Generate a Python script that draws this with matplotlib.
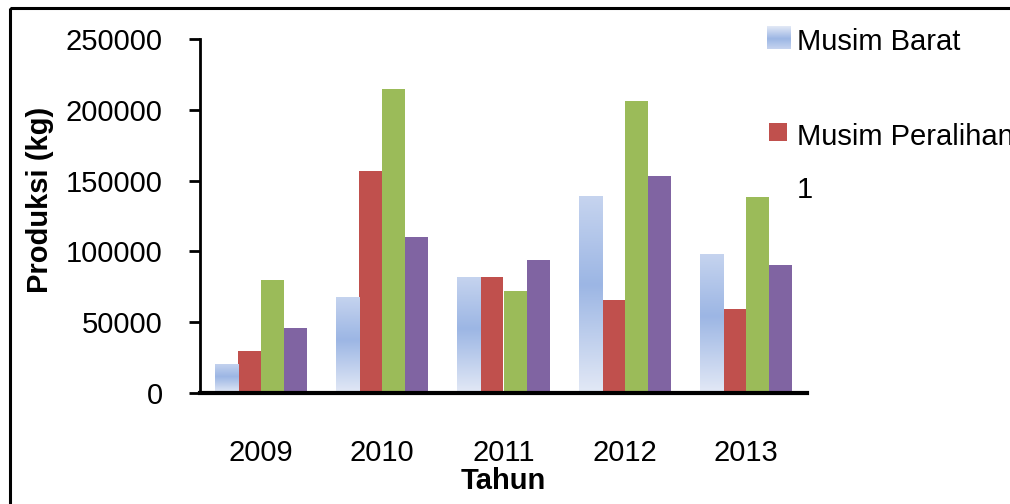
import numpy as np
import matplotlib
matplotlib.use("Agg")
import matplotlib.pyplot as plt
from matplotlib.patches import Rectangle
from matplotlib.colors import LinearSegmentedColormap

# ---- data ----
years = ["2009", "2010", "2011", "2012", "2013"]
musim_barat = [20500, 68000, 82000, 138800, 98400]
musim_peralihan_1 = [29700, 156500, 82000, 66000, 59500]
series_3 = [80000, 215000, 72000, 206000, 138700]
series_4 = [46000, 110000, 94000, 153000, 90600]
legend_labels = ["Musim Barat", "Musim Peralihan\n1"]
y_ticks = [0, 50000, 100000, 150000, 200000, 250000]

plt.rcParams['font.family'] = ['Liberation Sans', 'DejaVu Sans']

W, H = 1010, 504
fig = plt.figure(figsize=(W / 100, H / 100), dpi=100)

def fx(px):
    return px / W

def fy(py):
    return 1 - py / H

ax = fig.add_axes([fx(200), fy(393), fx(807) - fx(200), fy(39) - fy(393)])

x = np.arange(len(years))
bw = 0.19
red = "#c0504d"
green = "#9bbb59"
purple = "#8064a2"

grad_cmap = LinearSegmentedColormap.from_list(
    "bg", [(0.0, "#e3e9f6"), (0.55, "#9cb6e4"), (1.0, "#c6d4ef")])

blue_bars = ax.bar(x - 1.5 * bw, musim_barat, bw, color="none", edgecolor="none")
ax.bar(x - 0.5 * bw, musim_peralihan_1, bw, color=red, edgecolor="none")
ax.bar(x + 0.5 * bw, series_3, bw, color=green, edgecolor="none")
ax.bar(x + 1.5 * bw, series_4, bw, color=purple, edgecolor="none")

grad = np.linspace(0, 1, 256).reshape(-1, 1)
for b in blue_bars:
    x0, y0 = b.get_x(), b.get_y()
    w, h = b.get_width(), b.get_height()
    im = ax.imshow(grad, cmap=grad_cmap, origin="lower", aspect="auto",
                   extent=[x0, x0 + w, y0, y0 + h], zorder=1)
    im.set_clip_path(b)

ax.set_xlim(-0.5, len(years) - 0.5)
ax.set_ylim(0, 250000)
ax.set_yticks(y_ticks)
ax.set_yticklabels([str(v) for v in y_ticks])
ax.set_xticks(x)
ax.set_xticklabels(years)

for s in ["top", "right"]:
    ax.spines[s].set_visible(False)
ax.spines["left"].set_linewidth(2)
ax.spines["bottom"].set_linewidth(3)
ax.spines["left"].set_zorder(3)
ax.spines["bottom"].set_zorder(3)

ax.tick_params(axis="y", direction="out", length=8, width=2, pad=19,
               labelsize=21, colors="black")
ax.tick_params(axis="x", length=0, pad=33, labelsize=21, colors="black")

ax.set_xlabel("Tahun", fontsize=21, fontweight="bold", labelpad=0)
ax.set_ylabel("Produksi (kg)", fontsize=21, fontweight="bold")
ax.yaxis.set_label_coords(-0.24, 0.545)

# ---- legend (manual, partially cut off as in reference) ----
leg_ax = fig.add_axes([0, 0, 1, 1], facecolor="none")
leg_ax.set_xlim(0, W)
leg_ax.set_ylim(H, 0)
leg_ax.axis("off")

# blue gradient marker
mk = Rectangle((767, 26), 24, 23, facecolor="none", edgecolor="none")
leg_ax.add_patch(mk)
im = leg_ax.imshow(grad, cmap=grad_cmap, origin="upper", aspect="auto",
                   extent=[767, 791, 49, 26])
im.set_clip_path(mk)
leg_ax.add_patch(Rectangle((769, 123), 18, 18, facecolor=red, edgecolor="none"))

leg_ax.text(797, 42, legend_labels[0], fontsize=21, va="center", ha="left")
leg_ax.text(797, 137, legend_labels[1].split("\n")[0], fontsize=21, va="center", ha="left")
leg_ax.text(797, 190, legend_labels[1].split("\n")[1], fontsize=21, va="center", ha="left")

# outer chart border (right/bottom edges lie outside the picture)
leg_ax.add_patch(Rectangle((10, 8), 1040, 540, facecolor="none",
                           edgecolor="black", linewidth=2.2, clip_on=False))

fig.savefig("out.png", dpi=100)
